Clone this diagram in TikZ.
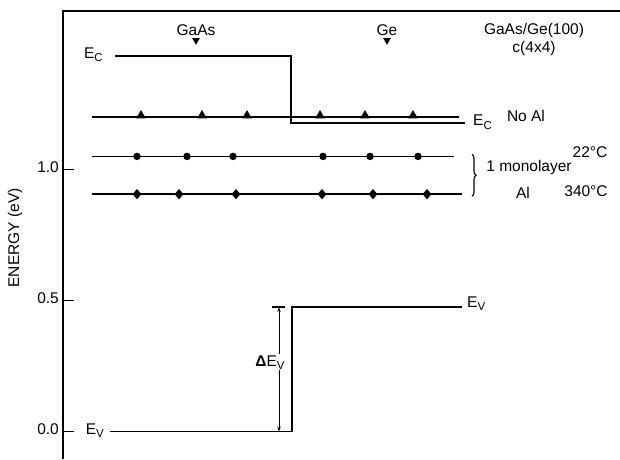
\documentclass[tikz,border=0pt]{standalone}
\usepackage{fontspec}
\setmainfont{Liberation Sans}
\usetikzlibrary{arrows.meta,positioning,calc,shapes.geometric,decorations.pathreplacing}
\newcommand{\lowsub}[1]{\raisebox{-0.4ex}{\fontsize{11.5}{12}\selectfont #1}}
\tikzset{
  axisline/.style={draw=black,line width=2pt},
  band/.style={draw=black,line width=1.7pt},
  level/.style={draw=black,line width=1.3pt},
  lbl/.style={font=\fontsize{15.5}{17}\selectfont,inner sep=1pt},
  tri/.style={regular polygon,regular polygon sides=3,fill=black,inner sep=0pt,minimum size=11pt},
  blob/.style={circle,fill=black,inner sep=0pt,minimum size=7.5pt},
  dia/.style={diamond,fill=black,inner sep=0pt,minimum width=9pt,minimum height=10.5pt},
  pointer/.style={regular polygon,regular polygon sides=3,shape border rotate=180,fill=black,inner sep=0pt,minimum size=9pt},
  dimarr/.style={{Stealth[length=5pt,width=3.5pt]}-{Stealth[length=5pt,width=3.5pt]},line width=0.9pt}
}

\begin{document}
\begin{tikzpicture}[x=1pt,y=262pt]
  \useasboundingbox (0,-0.105) rectangle (620,1.647);
  \draw[axisline] (63,-0.105) -- (63,1.605) -- (620,1.605);
  \foreach \e/\nm in {0.0/tickA,0.5/tickB,1.0/tickC} {
    \draw[band] (63,\e) -- (74,\e);
    \node[lbl,anchor=mid east] (\nm) at (60,\e) {\e};
  }
  \node[lbl,rotate=90] (ylab) at (15,0.739) {ENERGY (eV)};

  \coordinate (ecL) at (115,1.433);
  \coordinate (ecStep) at (291,1.433);
  \coordinate (ecLow) at (291,1.177);
  \coordinate (ecR) at (465,1.177);
  \draw[band] (ecL) -- (ecStep) -- (ecLow) -- (ecR);
  \node[lbl,anchor=mid east] (ecGaAs) at ([xshift=-11pt]ecL) {E\lowsub{C}};
  \node[lbl,anchor=mid west] (ecGe) at ([xshift=7pt]ecR) {E\lowsub{C}};

  \coordinate (evL) at (110,0);
  \coordinate (evStep) at (292,0);
  \coordinate (evTop) at (292,0.475);
  \coordinate (evR) at (462,0.475);
  \draw[band] (evL) -- (evStep) -- (evTop) -- (evR);
  \node[lbl,anchor=mid east] (evGaAs) at ([xshift=-5pt]evL) {E\lowsub{V}};
  \node[lbl,anchor=mid west] (evGe) at ([xshift=4pt,yshift=2pt]evR) {E\lowsub{V}};

  \coordinate (dTop) at (279,0.475);
  \coordinate (dBot) at (279,0);
  \draw[band] (272,0.475) -- (285,0.475);
  \draw[dimarr] (dTop) -- (dBot);
  \node[lbl,fill=white] (dEv) at (270,0.264) {\textbf{Δ}E\lowsub{V}};

  \draw[level] (92,1.20) -- (459,1.20);
  \foreach \x in {141,202,247,320,365,413} \node[tri] at (\x,1.206) {};
  \draw[level] (92,1.05) -- (454,1.05);
  \foreach \x in {137,187,233,323,370,418} \node[blob] at (\x,1.05) {};
  \draw[level] (92,0.906) -- (462,0.906);
  \foreach \x in {137,179,236,322,373,427} \node[dia] at (\x,0.906) {};

  \node[lbl] (noal) at (526,1.205) {No Al};
  \draw[decorate,decoration={brace,amplitude=4pt},line width=1.1pt] (472,1.058) -- (472,0.898);
  \node[lbl] (mono) at (529,1.006) {1 monolayer};
  \node[lbl] (al) at (523,0.912) {Al};
  \node[lbl] (tlow) at (590,1.068) {22°C};
  \node[lbl] (thigh) at (586,0.916) {340°C};

  \node[lbl] (gaas) at (196,1.532) {GaAs};
  \node[pointer,below=1pt of gaas] (gaasPtr) {};
  \node[lbl] (ge) at (387,1.532) {Ge};
  \node[pointer,below=1pt of ge] (gePtr) {};
  \node[lbl,align=center,font=\fontsize{15.5}{18}\selectfont] (sample) at (534,1.498) {GaAs/Ge(100)\\c(4x4)};
\end{tikzpicture}
\end{document}
